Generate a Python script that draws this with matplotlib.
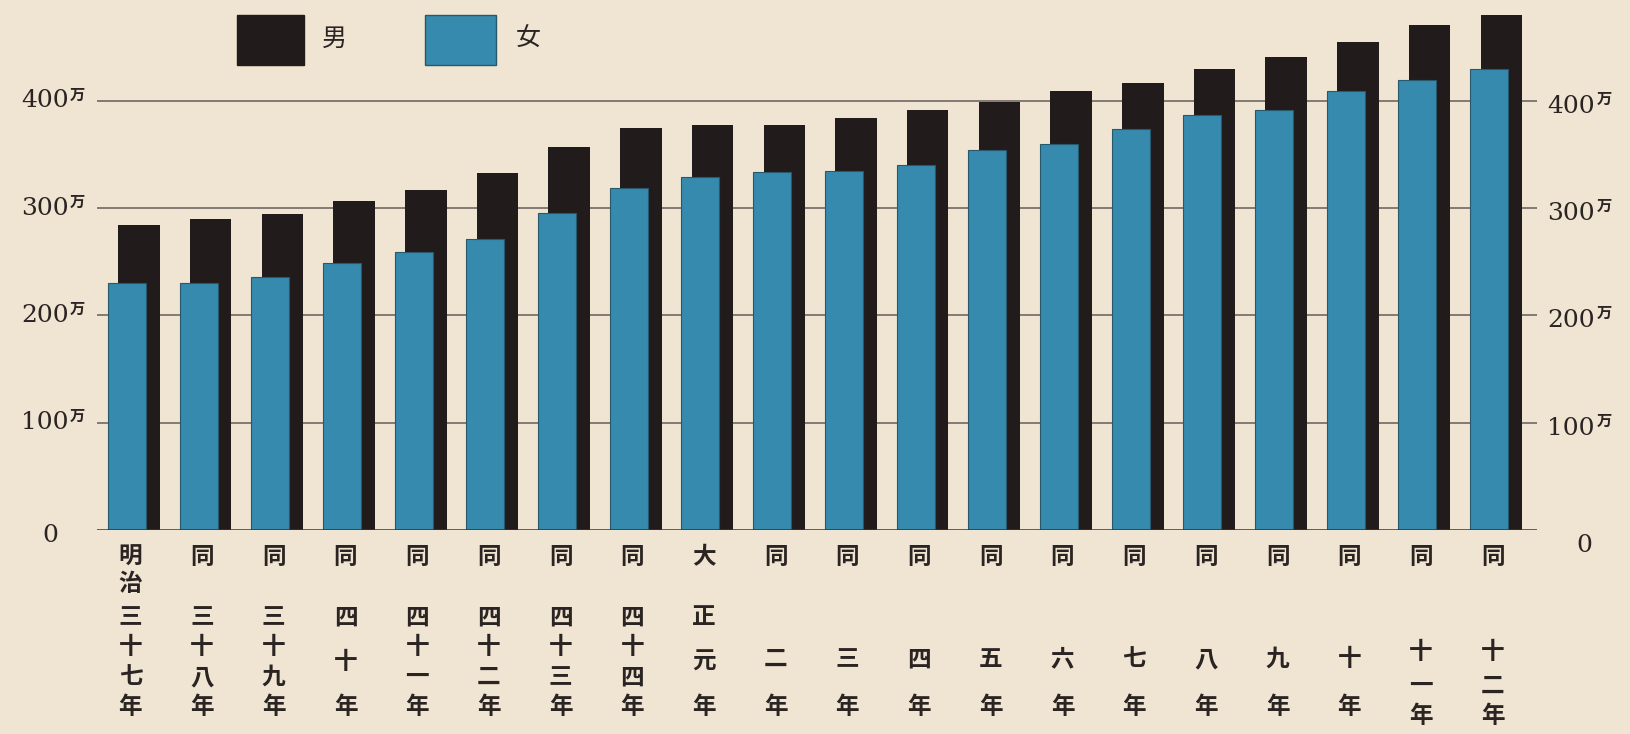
import matplotlib
matplotlib.use("Agg")
import matplotlib.pyplot as plt
from matplotlib.patches import Rectangle
from matplotlib.transforms import blended_transform_factory

# ---------------- data ----------------
labels = ["明治三十七年", "同三十八年", "同三十九年", "同四十年", "同四十一年",
          "同四十二年", "同四十三年", "同四十四年", "大正元年", "同二年",
          "同三年", "同四年", "同五年", "同六年", "同七年",
          "同八年", "同九年", "同十年", "同十一年", "同十二年"]
male = [284, 290, 295, 307, 317, 333, 357, 375, 378, 378,
        384, 392, 399, 409, 417, 430, 441, 455, 471, 480]
female = [230, 230, 236, 249, 259, 271, 296, 319, 329, 334,
          335, 340, 354, 360, 374, 387, 392, 409, 420, 430]
yticks = [100, 200, 300, 400]
unit = "万"
series_names = ["男", "女"]

# ---------------- style ----------------
BG = "#f0e4d3"
BLACK = "#221b1b"
BLUE = "#368aae"
GRID = "#7a736b"
TXT = "#2a2422"
CJK = ["Noto Sans CJK JP", "DejaVu Sans"]
NUM = "DejaVu Serif"

W_PX, H_PX = 1631, 734
fig = plt.figure(figsize=(W_PX / 100, H_PX / 100), dpi=100, facecolor=BG)


def fx(px):
    return px / W_PX


def fy(py):
    return 1 - py / H_PX


left_px, right_px, base_px, top_px = 97, 1537, 530, 5
ax = fig.add_axes([fx(left_px), fy(base_px), fx(right_px - left_px),
                   (base_px - top_px) / H_PX])
ax.set_facecolor(BG)
step = 71.7
x0 = -(139 - left_px) / step
ax.set_xlim(x0, x0 + (right_px - left_px) / step)
ppu = (530 - 101) / 400.0
ax.set_ylim(0, (base_px - top_px) / ppu)

for s in ax.spines.values():
    s.set_visible(False)
ax.set_xticks([])
ax.set_yticks([])

# grid lines
for v in yticks:
    ax.axhline(v, color=GRID, lw=1.3, zorder=1)
ax.axhline(0, color="#3b3430", lw=1.8, zorder=4)

xs = list(range(len(labels)))
ax.bar(xs, male, width=0.58, color=BLACK, zorder=2, linewidth=0)
ax.bar([x - 0.17 for x in xs], female, width=0.53, color=BLUE,
       edgecolor="#27586b", linewidth=0.8, zorder=3)

# y labels (left & right)
tl = blended_transform_factory(fig.transFigure, ax.transData)
for v in yticks:
    fig.text(fx(69), v, f"{v}", transform=tl, ha="right", va="center",
             fontsize=18, family=NUM, color=TXT)
    fig.text(fx(70), v + 6, unit, transform=tl, ha="left", va="center",
             fontsize=11, family=CJK, color=TXT, fontweight="bold")
    fig.text(fx(1547), v - 5, f"{v}", transform=tl, ha="left", va="center",
             fontsize=18, family=NUM, color=TXT)
    fig.text(fx(1597), v + 2, unit, transform=tl, ha="left", va="center",
             fontsize=11, family=CJK, color=TXT, fontweight="bold")
fig.text(fx(50), fy(536), "0", ha="center", va="center", fontsize=18,
         family=NUM, color=TXT)
fig.text(fx(1584), fy(545), "0", ha="center", va="center", fontsize=18,
         family=NUM, color=TXT)

# category labels, vertical
tx = blended_transform_factory(ax.transData, fig.transFigure)
n = len(labels)
for i, lab in enumerate(labels):
    xc = i - 0.12
    if lab.startswith("明治"):
        top, rest = lab[:2], lab[2:]
        top_y = [557, 584]
    else:
        top, rest = lab[:1], lab[1:]
        top_y = [557]
    k = len(rest)
    if k == 4:
        ys = [617, 647, 677, 707]
    elif k == 3 and i >= n - 2:
        ys = [652, 686, 716]
    elif k == 3:
        ys = [617, 662, 707]
    else:
        ys = [659, 707]
    for ch, y in zip(top, top_y):
        fig.text(xc, fy(y), ch, transform=tx, ha="center", va="center",
                 fontsize=17, family=CJK, color=TXT, fontweight="bold")
    for ch, y in zip(rest, ys):
        fig.text(xc, fy(y), ch, transform=tx, ha="center", va="center",
                 fontsize=17, family=CJK, color=TXT, fontweight="bold")

# legend
for (x1, x2), col, name, tx_px in [((237, 304), BLACK, series_names[0], 334),
                                   ((425, 496), BLUE, series_names[1], 528)]:
    fig.patches.append(Rectangle((fx(x1), fy(65)), fx(x2 - x1), (65 - 15) / H_PX,
                                 transform=fig.transFigure, facecolor=col,
                                 edgecolor="#27586b" if col == BLUE else col,
                                 linewidth=1))
    fig.text(fx(tx_px), fy(39), name, ha="center", va="center", fontsize=18,
             family=CJK, color=TXT)

fig.savefig("out.png", dpi=100, facecolor=BG)
